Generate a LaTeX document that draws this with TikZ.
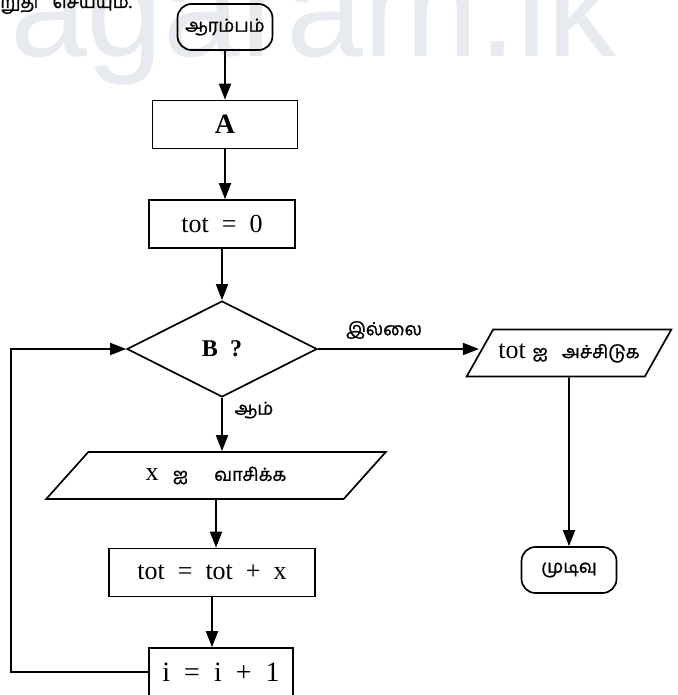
\documentclass[tikz,border=0pt]{standalone}
\usepackage{fontspec}
\setmainfont{Liberation Serif}
\newfontfamily\tamil[Script=Tamil,FakeBold=1.2]{Hind Madurai}
\newfontfamily\wmfont{Liberation Sans}
\usetikzlibrary{arrows.meta,shapes.geometric}
\definecolor{wmgrey}{HTML}{E7EBEF}
\newcommand\tamtext[1]{{\tamil\fontsize{18}{20}\selectfont #1}}

\begin{document}
\begin{tikzpicture}[x=1pt,y=1pt]
\tikzstyle{term} = [draw,line width=1.7pt,rounded corners=14pt,minimum width=95pt,minimum height=46pt,font=\tamil\fontsize{18}{20}\selectfont]
\tikzstyle{proc} = [draw,line width=1.7pt,minimum height=48pt,font=\fontsize{26}{28}\selectfont]
\tikzstyle{io} = [draw,line width=1.7pt,trapezium,trapezium left angle=45,trapezium right angle=135,trapezium stretches=true,minimum height=47pt,font=\fontsize{26}{28}\selectfont]
\tikzstyle{decision} = [draw,line width=1.7pt,diamond,minimum width=190pt,minimum height=96pt,inner sep=0pt,font=\bfseries\fontsize{24}{26}\selectfont]
\tikzstyle{flow} = [line width=1.8pt,-{Triangle[length=16pt,width=12pt]}]
\tikzstyle{elabel} = [font=\tamil\fontsize{18}{20}\selectfont]

\useasboundingbox (0,0) rectangle (677,-695);

% watermark and cut-off line at the top
\node[anchor=base west,inner sep=0pt,text=wmgrey,font=\wmfont\fontsize{138}{140}\selectfont] (mark) at (10,-57) {agaram.lk};
\begin{scope}
\clip (0,0) rectangle (677,-695);
\node[anchor=base west,inner sep=0pt,elabel] (note) at (0,-8) {றுதி\hspace{14pt}செய்யும்.};
\end{scope}

% main column
\node[term] (start) at (225,-27) {ஆரம்பம்};
\node[proc,below of=start,node distance=97.5pt,minimum width=145pt,font=\bfseries\fontsize{28}{30}\selectfont] (A) {A};
\node[proc,below of=A,node distance=99.5pt,xshift=-3pt,minimum width=146pt] (tot0) {tot\ \ =\ \ 0};
\node[decision,below of=tot0,node distance=125pt] (B) {B\ \ ?};
\node[io,below of=B,node distance=126.5pt,xshift=-6pt,minimum width=340pt] (read) {x\hspace{14pt}\tamtext{ஐ}\hspace{26pt}\tamtext{வாசிக்க}};
\node[proc,below of=read,node distance=97pt,xshift=-4pt,minimum width=206pt] (add) {tot\ \ =\ \ tot\ \ +\ \ x};
\node[proc,below of=add,node distance=99.5pt,xshift=9pt,minimum width=144pt,font=\fontsize{28}{30}\selectfont] (inc) {i\ \ =\ \ i\ \ +\ \ 1};

% right branch
\node[io,right of=B,node distance=347pt,yshift=-4pt,minimum width=205pt] (print) {tot\ \tamtext{ஐ}\hspace{14pt}\tamtext{அச்சிடுக}};
\node[term,below of=print,node distance=217pt] (stop) {முடிவு};

\node[elabel] (no) at (384,-330) {இல்லை};
\node[elabel] (yes) at (254,-410) {ஆம்};
\coordinate (back) at (11,-672);

\draw[flow] (start) -- (A);
\draw[flow] (A.south) -- (A.south |- tot0.north);
\draw[flow] (tot0) -- (B);
\draw[flow] (B.south) -- (B.south |- read.north);
\draw[flow] (read.south) -- (read.south |- add.north);
\draw[flow] (add.south) -- (add.south |- inc.north);
\draw[flow] (inc.west) -- (back) |- (B.west);
\draw[flow] (B.east) -- (B.east -| print.west);
\draw[flow] (print.south) -- (stop);

\end{tikzpicture}
\end{document}
